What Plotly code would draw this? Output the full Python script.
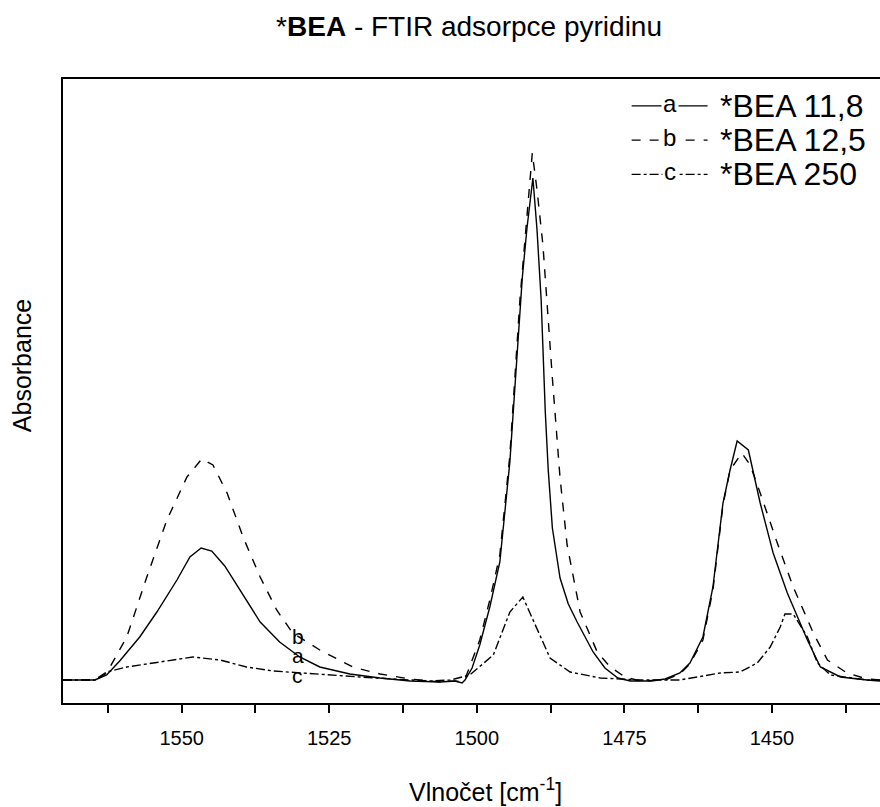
import plotly.graph_objects as go

# ---- data ----
wn_a = [1570.1, 1564.7, 1562.7, 1560.5, 1557.1, 1554.2, 1550.8, 1548.6, 1546.7, 1544.9,
        1542.7, 1540.1, 1536.7, 1533.4, 1530.0, 1526.6, 1521.5, 1516.4, 1511.3, 1506.2,
        1503.7, 1502.5, 1502.0, 1500.8, 1499.5, 1497.8, 1496.1, 1494.4, 1493.4, 1492.3,
        1491.5, 1490.5, 1489.8, 1489.1, 1488.4, 1487.9, 1487.2, 1485.9, 1484.5, 1483.0,
        1480.3, 1478.3, 1476.1, 1474.0, 1470.6, 1468.1, 1465.6, 1463.9, 1461.7, 1460.0,
        1458.3, 1457.1, 1455.9, 1454.0, 1452.0, 1449.8, 1447.4, 1444.0, 1441.8, 1438.4,
        1433.9, 1431.7]
abs_a = [0.000, 0.000, 0.005, 0.019, 0.043, 0.068, 0.100, 0.123, 0.132, 0.129,
         0.114, 0.090, 0.058, 0.038, 0.023, 0.013, 0.006, 0.002, -0.001, -0.002,
         -0.001, -0.003, 0.000, 0.012, 0.035, 0.073, 0.118, 0.218, 0.310, 0.402,
         0.452, 0.502, 0.450, 0.380, 0.268, 0.210, 0.152, 0.102, 0.076, 0.058,
         0.028, 0.012, 0.002, -0.001, -0.001, 0.001, 0.007, 0.017, 0.043, 0.093,
         0.177, 0.210, 0.239, 0.230, 0.177, 0.127, 0.087, 0.040, 0.013, 0.003,
         0.000, -0.001]

wn_b = [1570.1, 1564.7, 1562.7, 1559.3, 1555.9, 1552.5, 1549.1, 1546.6, 1544.7, 1542.3,
        1539.6, 1536.7, 1533.9, 1531.2, 1526.6, 1521.0, 1516.4, 1511.3, 1506.2, 1503.7,
        1502.5, 1502.0, 1499.5, 1497.8, 1496.1, 1494.4, 1492.7, 1491.5, 1490.6, 1489.8,
        1488.8, 1487.2, 1485.9, 1484.7, 1482.5, 1479.6, 1477.4, 1474.9, 1472.3, 1468.1,
        1465.6, 1463.9, 1461.7, 1460.0, 1458.3, 1457.1, 1455.1, 1453.7, 1452.0, 1449.1,
        1446.4, 1443.0, 1440.6, 1437.3, 1433.9, 1431.7]
abs_b = [0.000, 0.000, 0.007, 0.043, 0.103, 0.160, 0.203, 0.221, 0.215, 0.187,
         0.143, 0.103, 0.070, 0.047, 0.030, 0.013, 0.006, 0.001, -0.002, -0.001,
         -0.002, 0.001, 0.040, 0.080, 0.125, 0.225, 0.380, 0.465, 0.527, 0.490,
         0.435, 0.302, 0.202, 0.135, 0.068, 0.028, 0.013, 0.003, -0.001, 0.000,
         0.006, 0.016, 0.040, 0.090, 0.175, 0.210, 0.227, 0.215, 0.187, 0.137,
         0.093, 0.047, 0.020, 0.007, 0.001, 0.000]

wn_c = [1570.1, 1564.7, 1562.7, 1559.3, 1553.7, 1548.1, 1543.5, 1539.0, 1534.5, 1530.0,
        1525.4, 1519.8, 1511.3, 1507.9, 1504.5, 1501.2, 1497.2, 1494.4, 1492.2, 1489.8,
        1487.6, 1484.2, 1479.1, 1472.3, 1465.6, 1458.8, 1455.4, 1452.5, 1450.3, 1448.6,
        1447.8, 1446.4, 1444.0, 1442.3, 1440.1, 1433.9, 1431.7]
abs_c = [0.000, 0.000, 0.008, 0.013, 0.018, 0.023, 0.020, 0.013, 0.009, 0.007,
         0.005, 0.003, 0.000, -0.001, 0.000, 0.005, 0.025, 0.068, 0.083, 0.052,
         0.022, 0.008, 0.002, 0.000, 0.000, 0.007, 0.008, 0.017, 0.033, 0.053,
         0.066, 0.066, 0.043, 0.017, 0.005, 0.000, 0.000]

series_names = ["*BEA 11,8", "*BEA 12,5", "*BEA 250"]
series_letters = ["a", "b", "c"]
series_dash = ["solid", "dash", "dashdot"]
x_ticks = [1550, 1525, 1500, 1475, 1450]
x_minor = [1562.5, 1537.5, 1512.5, 1487.5, 1462.5, 1437.5]

FONT = "Liberation Sans, Arial, sans-serif"

fig = go.Figure()
for wn, ab, nm, ds in zip([wn_a, wn_b, wn_c], [abs_a, abs_b, abs_c], series_names, series_dash):
    fig.add_trace(go.Scatter(x=wn, y=ab, mode="lines", name=nm,
                             line=dict(color="black", width=1.4, dash=ds),
                             showlegend=False))

# curve labels near the first band
for letter, yv in zip(["b", "a", "c"], [0.044, 0.025, 0.005]):
    fig.add_annotation(x=1530.3, y=yv, text=letter, showarrow=False,
                       xanchor="center", yanchor="middle",
                       font=dict(family=FONT, size=21, color="black"))

# custom legend (line sample with letter in the middle)
leg_y = [0.957, 0.902, 0.847]
for i in range(3):
    fig.add_shape(type="line", xref="paper", yref="paper",
                  x0=0.696, x1=0.789, y0=leg_y[i], y1=leg_y[i],
                  line=dict(color="black", width=1.2, dash=series_dash[i]))
    fig.add_annotation(xref="paper", yref="paper", x=0.7425, y=leg_y[i] + 0.004,
                       xanchor="center", yanchor="middle",
                       text=series_letters[i], showarrow=False, bgcolor="white",
                       borderpad=1, font=dict(family=FONT, size=24, color="black"))
    fig.add_annotation(xref="paper", yref="paper", x=0.802, y=leg_y[i],
                       xanchor="left", yanchor="middle", text=series_names[i],
                       showarrow=False,
                       font=dict(family=FONT, size=32, color="black"))

# axis titles
fig.add_annotation(xref="paper", yref="paper", x=0.517, y=-0.14,
                   xanchor="center", yanchor="middle", showarrow=False,
                   text="Vlnočet [cm<sup>-1</sup>]",
                   font=dict(family=FONT, size=25, color="black"))
fig.add_annotation(xref="paper", yref="paper", x=-0.05, y=0.54,
                   xanchor="center", yanchor="middle", showarrow=False,
                   textangle=-90, text="Absorbance",
                   font=dict(family=FONT, size=25, color="black"))

fig.update_layout(
    width=880, height=807,
    margin=dict(l=63, r=0, t=79, b=104),
    paper_bgcolor="white", plot_bgcolor="white",
    title=dict(text="*<b>BEA</b> - FTIR adsorpce pyridinu", x=0.533, xanchor="center",
               y=0.968, yanchor="middle",
               font=dict(family=FONT, size=28, color="black")),
    xaxis=dict(range=[1570.1, 1431.7], showline=True, linewidth=2, linecolor="black",
               mirror=True, showgrid=False, zeroline=False,
               tickvals=x_ticks, ticks="outside", ticklen=8, tickwidth=1.5,
               tickcolor="black", ticklabelstandoff=8,
               tickfont=dict(family=FONT, size=20, color="black"),
               minor=dict(tickvals=x_minor, ticks="outside", ticklen=8,
                          tickwidth=1.5, tickcolor="black")),
    yaxis=dict(range=[-0.023, 0.601], showline=True, linewidth=2, linecolor="black",
               mirror=False, showgrid=False, zeroline=False, showticklabels=False,
               ticks=""),
)

fig.write_html("out.html")
